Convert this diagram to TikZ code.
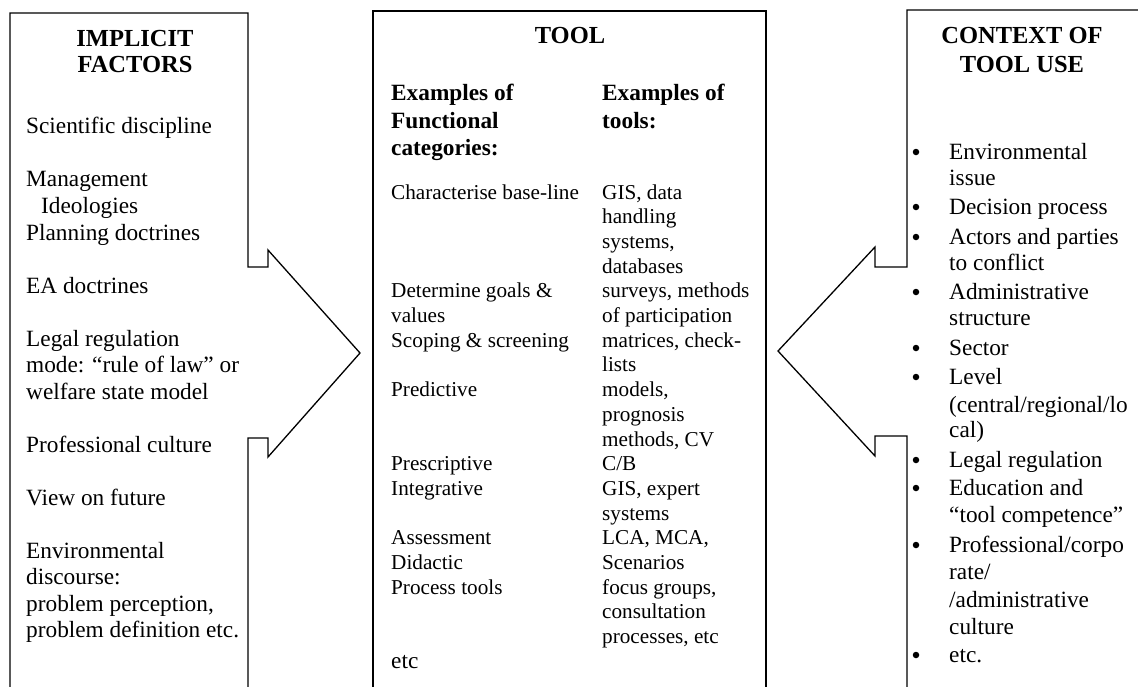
\documentclass[tikz,border=0pt]{standalone}
\usepackage{fontspec}
\setmainfont{Liberation Serif}
\begin{document}
\begin{tikzpicture}[x=1pt,y=-1pt,
  frame/.style={draw=black, line width=1.3pt, line join=miter},
  head/.style={font=\fontsize{24.5}{26}\selectfont\bfseries, anchor=base, inner sep=0pt},
  sub/.style={font=\fontsize{23.3}{27}\selectfont\bfseries, anchor=base west, inner sep=0pt},
  body/.style={font=\fontsize{23.3}{26.8}\selectfont, anchor=base west, inner sep=0pt},
  tbody/.style={font=\fontsize{21.2}{24.7}\selectfont, anchor=base west, inner sep=0pt},
  dot/.style={circle, fill=black, inner sep=0pt, minimum size=6.5pt}]
\useasboundingbox (0,0) rectangle (1138,686);
\clip (0,0) rectangle (1138,686);
\fill[white] (0,0) rectangle (1138,686);

% left panel with arrow pointing right
\draw[frame] (10,700) -- (10,13) -- (248,13) -- (248,267) -- (268,267) -- (268,250)
  -- (360,353) -- (268,457) -- (268,438) -- (248,438) -- (248,700);
% centre panel
\draw[frame] (373,700) -- (373,11) -- (766,11) -- (766,700);
% right panel with arrow pointing left
\draw[frame] (1150,10) -- (907,10) -- (907,267) -- (875,267) -- (875,247)
  -- (778,351) -- (875,456) -- (875,436) -- (907,436) -- (907,700);

% left panel text
\node[head] (h1a) at (135,46) {IMPLICIT};
\node[head] (h1b) at (135,72) {FACTORS};
\foreach \y/\t [count=\i] in {
  133/Scientific discipline,
  186/Management,
  240/Planning doctrines,
  293/EA doctrines,
  346/Legal regulation,
  372/{mode: “rule of law” or},
  399/welfare state model,
  452/Professional culture,
  505/View on future,
  558/Environmental,
  584/discourse:,
  611/{problem perception,},
  637/problem definition etc.}
  \node[body] (l\i) at (26,\y) {\t};
\node[body] (lid) at (41,213) {Ideologies};

% centre panel text
\node[head] (h2) at (570,43) {TOOL};
\node[sub] (s1a) at (391,100) {Examples of};
\node[sub] (s1b) at (391,128) {Functional};
\node[sub] (s1c) at (391,155) {categories:};
\node[sub] (s2a) at (602,100) {Examples of};
\node[sub] (s2b) at (602,128) {tools:};
\foreach \k/\t [count=\i] in {
  0/Characterise base-line,
  4/Determine goals \&,
  5/values,
  6/Scoping \& screening,
  8/Predictive,
  11/Prescriptive,
  12/Integrative,
  14/Assessment,
  15/Didactic,
  16/Process tools}
  \node[tbody] (c\i) at (391,199+24.7*\k) {\t};
\foreach \k/\t [count=\i] in {
  0/{GIS, data},
  1/handling,
  2/{systems,},
  3/databases,
  4/{surveys, methods},
  5/of participation,
  6/{matrices, check-},
  7/lists,
  8/{models,},
  9/prognosis,
  10/{methods, CV},
  11/{C/B},
  12/{GIS, expert},
  13/systems,
  14/{LCA, MCA,},
  15/Scenarios,
  16/{focus groups,},
  17/consultation,
  18/{processes, etc}}
  \node[tbody] (t\i) at (602,199+24.7*\k) {\t};
\node[body] (cetc) at (391,668) {etc};

% right panel text
\node[head] (h3a) at (1022,43) {CONTEXT OF};
\node[head] (h3b) at (1022,72) {TOOL USE};
\foreach \y/\t [count=\i] in {
  159/Environmental,
  185/issue,
  214/Decision process,
  244/Actors and parties,
  270/to conflict,
  299/Administrative,
  325/structure,
  355/Sector,
  384/Level,
  412/{(central/regional/lo},
  437/cal),
  467/Legal regulation,
  495/Education and,
  522/“tool competence”,
  552/{Professional/corpo},
  579/{rate/},
  607/{/administrative},
  634/culture,
  662/etc.}
  \node[body] (r\i) at (949,\y) {\t};
% bullet marks
\foreach \y [count=\i] in {159,214,244,299,355,384,467,495,552,662}
  \node[dot] (b\i) at (916,\y-7) {};
\end{tikzpicture}
\end{document}
